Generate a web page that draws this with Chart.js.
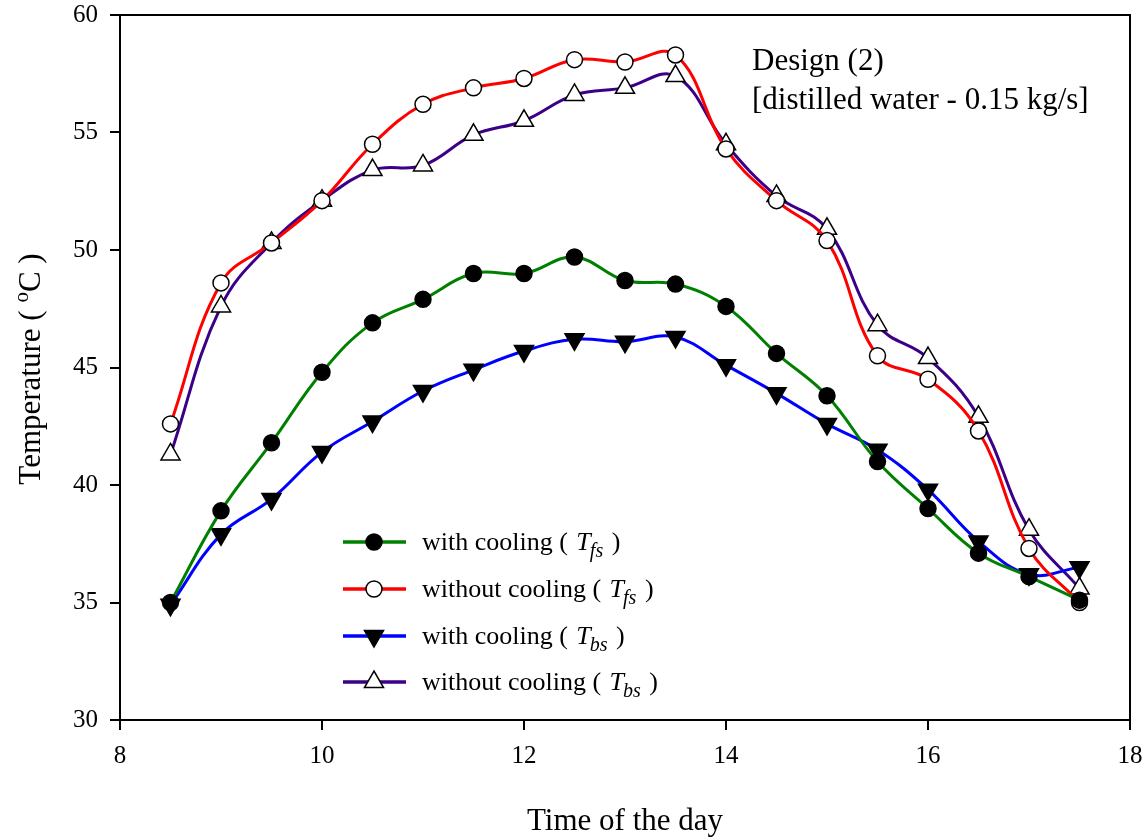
<!DOCTYPE html>
<html>
<head>
<meta charset="utf-8">
<script src="https://cdn.jsdelivr.net/npm/chart.js@4.4.1/dist/chart.umd.min.js"></script>
<style>
html,body{margin:0;padding:0;background:#fff;}
#wrap{width:1146px;height:840px;}
</style>
</head>
<body>
<div id="wrap"><canvas id="c" width="1146" height="840"></canvas></div>
<script>
const hours = [8.5, 9, 9.5, 10, 10.5, 11, 11.5, 12, 12.5, 13, 13.5, 14, 14.5, 15, 15.5, 16, 16.5, 17, 17.5];
const withCoolingFs    = [35.0, 38.9, 41.8, 44.8, 46.9, 47.9, 49.0, 49.0, 49.7, 48.7, 48.55, 47.6, 45.6, 43.8, 41.0, 39.0, 37.1, 36.1, 35.1];
const withoutCoolingFs = [42.6, 48.6, 50.3, 52.1, 54.5, 56.2, 56.9, 57.3, 58.1, 58.0, 58.3, 54.3, 52.1, 50.4, 45.5, 44.5, 42.3, 37.3, 35.0];
const withCoolingBs    = [34.9, 37.9, 39.4, 41.4, 42.7, 44.0, 44.9, 45.7, 46.2, 46.1, 46.3, 45.1, 43.9, 42.6, 41.5, 39.8, 37.6, 36.2, 36.5];
const withoutCoolingBs = [41.3, 47.6, 50.3, 52.1, 53.4, 53.6, 54.9, 55.5, 56.6, 56.9, 57.4, 54.5, 52.3, 50.9, 46.8, 45.4, 42.9, 38.1, 35.6];
const seriesLabels = ['with cooling', 'without cooling', 'with cooling', 'without cooling'];
const seriesSubs = ['fs', 'fs', 'bs', 'bs'];
const xTicks = [8, 10, 12, 14, 16, 18];
const yTicks = [30, 35, 40, 45, 50, 55, 60];
const noteLines = ['Design (2)', '[distilled water - 0.15 kg/s]'];
const xTitle = 'Time of the day';

const FONT = '"Liberation Serif", "Times New Roman", serif';
const toXY = arr => hours.map((h, i) => ({x: h, y: arr[i]}));

const styles = [
  {color: '#008000', fill: '#000000', style: 'circle', rot: 0},
  {color: '#ff0000', fill: '#ffffff', style: 'circle', rot: 0},
  {color: '#0000ff', fill: '#000000', style: 'triangle', rot: 180},
  {color: '#3c0088', fill: '#ffffff', style: 'triangle', rot: 0}
];
const allData = [withCoolingFs, withoutCoolingFs, withCoolingBs, withoutCoolingBs];

const datasets = allData.map((d, i) => ({
  label: seriesLabels[i] + ' (T' + seriesSubs[i] + ')',
  data: toXY(d),
  borderColor: styles[i].color,
  backgroundColor: styles[i].fill,
  borderWidth: 3,
  pointStyle: styles[i].style,
  pointRotation: styles[i].rot,
  pointRadius: styles[i].style === 'circle' ? 8 : 11,
  pointBorderColor: '#000',
  pointBackgroundColor: styles[i].fill,
  pointBorderWidth: 1.5,
  tension: 0.4,
  fill: false
}));

const decor = {
  id: 'decor',
  afterDraw(chart) {
    const ctx = chart.ctx;
    const a = chart.chartArea;
    ctx.save();
    ctx.strokeStyle = '#000';
    ctx.lineWidth = 2;
    ctx.strokeRect(a.left, a.top, a.right - a.left, a.bottom - a.top);
    ctx.fillStyle = '#000';
    ctx.font = '31px ' + FONT;
    ctx.textAlign = 'left';
    ctx.textBaseline = 'alphabetic';
    ctx.fillText(noteLines[0], 752, 70);
    ctx.fillText(noteLines[1], 752, 109);
    const rows = [542, 589, 636, 682];
    rows.forEach((y, i) => {
      const s = styles[i];
      ctx.strokeStyle = s.color;
      ctx.lineWidth = 3.5;
      ctx.beginPath(); ctx.moveTo(343, y); ctx.lineTo(406, y); ctx.stroke();
      ctx.fillStyle = s.fill; ctx.strokeStyle = '#000'; ctx.lineWidth = 1.5;
      ctx.beginPath();
      if (s.style === 'circle') { ctx.arc(374, y, 8, 0, Math.PI * 2); }
      else {
        const r = 11, dir = s.rot ? -1 : 1;
        ctx.moveTo(374, y - dir * r);
        ctx.lineTo(374 - r * 0.866, y + dir * r * 0.5);
        ctx.lineTo(374 + r * 0.866, y + dir * r * 0.5);
        ctx.closePath();
      }
      ctx.fill(); ctx.stroke();
      ctx.fillStyle = '#000';
      let x = 422;
      const base = y + 8;
      ctx.font = '26px ' + FONT;
      const t1 = seriesLabels[i] + ' ( ';
      ctx.fillText(t1, x, base); x += ctx.measureText(t1).width + 2;
      ctx.font = 'italic 26px ' + FONT;
      ctx.fillText('T', x, base); x += ctx.measureText('T').width - 1;
      ctx.font = 'italic 20px ' + FONT;
      ctx.fillText(seriesSubs[i], x, base + 7); x += ctx.measureText(seriesSubs[i]).width + 2;
      ctx.font = '26px ' + FONT;
      ctx.fillText(' )', x, base);
    });
    ctx.save();
    ctx.translate(32, 369);
    ctx.rotate(-Math.PI / 2);
    const p1 = 'Temperature ( ', p3 = 'C )';
    ctx.font = '31px ' + FONT;
    const w1 = ctx.measureText(p1).width, w3 = ctx.measureText(p3).width;
    ctx.font = '21px ' + FONT;
    const w2 = ctx.measureText('o').width;
    let sx = -(w1 + w2 + w3) / 2;
    ctx.textBaseline = 'middle';
    ctx.font = '31px ' + FONT;
    ctx.fillText(p1, sx, 0); sx += w1;
    ctx.font = '21px ' + FONT;
    ctx.fillText('o', sx, -10); sx += w2;
    ctx.font = '31px ' + FONT;
    ctx.fillText(p3, sx, 0);
    ctx.restore();
    ctx.restore();
  }
};

new Chart(document.getElementById('c'), {
  type: 'line',
  data: {datasets},
  plugins: [decor],
  options: {
    responsive: false,
    animation: false,
    layout: {padding: {left: 0, right: 16, top: 15, bottom: 0}},
    plugins: {legend: {display: false}, tooltip: {enabled: false}},
    scales: {
      x: {
        type: 'linear', min: 8, max: 18,
        afterBuildTicks: s => { s.ticks = xTicks.map(v => ({value: v})); },
        afterFit: s => { s.height = 120; s.paddingLeft = 0; s.paddingRight = 0; },
        grid: {drawOnChartArea: false, tickLength: 10, color: '#000', lineWidth: 2, tickColor: '#000'},
        border: {color: '#000', width: 2},
        ticks: {color: '#000', font: {family: FONT, size: 25}, padding: 11, maxRotation: 0},
        title: {display: true, text: xTitle, color: '#000', font: {family: FONT, size: 31}, padding: {top: 34, bottom: 0}}
      },
      y: {
        type: 'linear', min: 30, max: 60,
        afterBuildTicks: s => { s.ticks = yTicks.map(v => ({value: v})); },
        afterFit: s => { s.width = 120; s.paddingTop = 0; s.paddingBottom = 0; },
        grid: {drawOnChartArea: false, tickLength: 10, color: '#000', lineWidth: 2, tickColor: '#000'},
        border: {color: '#000', width: 2},
        ticks: {color: '#000', font: {family: FONT, size: 25}, padding: 12}
      }
    }
  }
});
</script>
</body>
</html>
